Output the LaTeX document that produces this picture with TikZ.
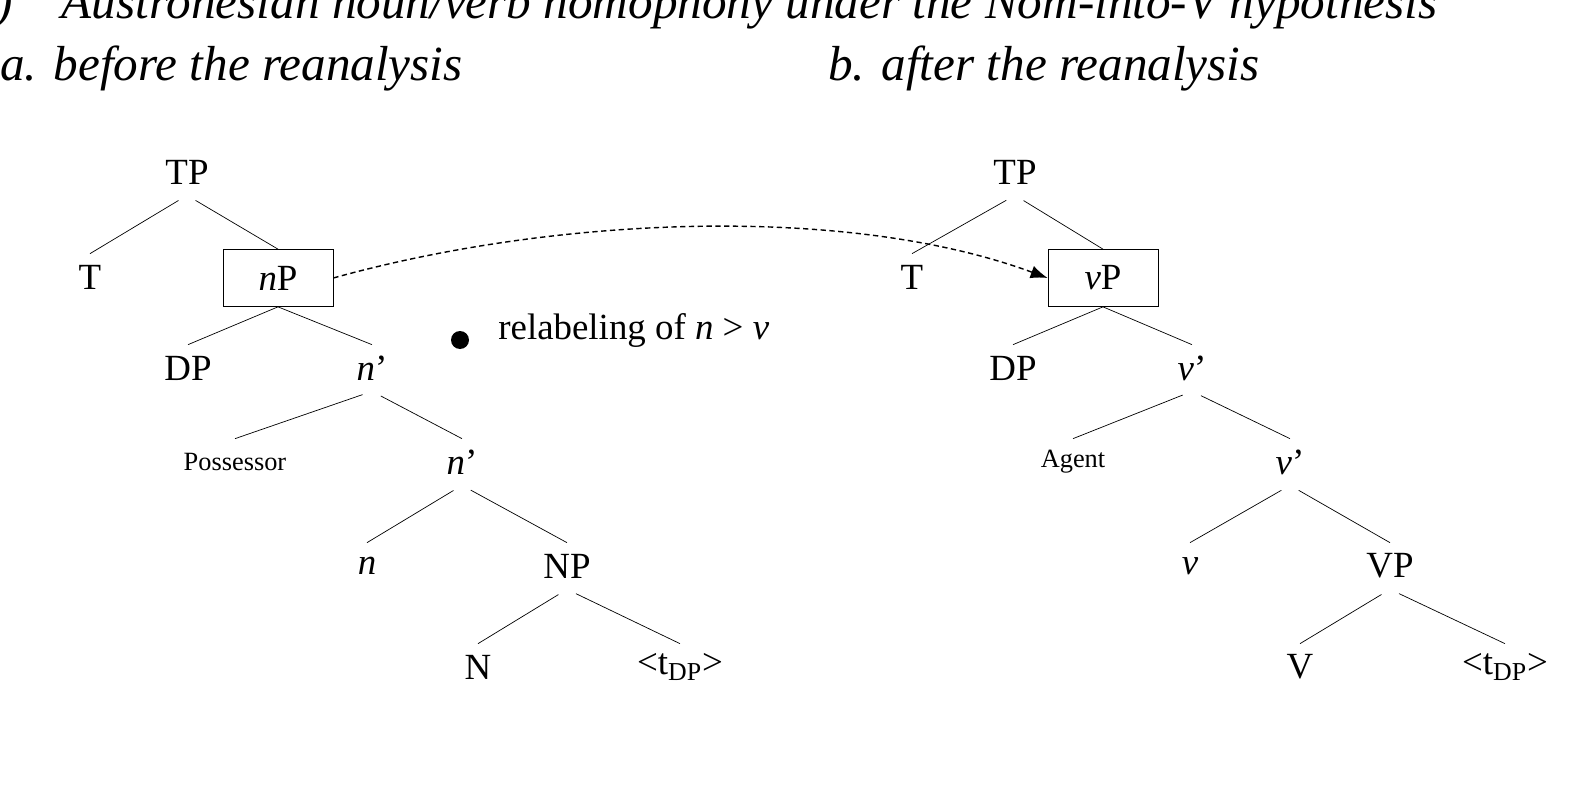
\documentclass[tikz,border=0pt]{standalone}
\usepackage{fontspec}
\setmainfont{Liberation Serif}
\usetikzlibrary{arrows.meta}
\tikzset{
    cat/.style={inner sep=0pt, minimum height=0.92cm, font=\fontsize{21}{25}\selectfont},
    small cat/.style={cat, font=\fontsize{15}{18}\selectfont},
    boxed/.style={draw, inner sep=0pt, minimum width=2.2cm, minimum height=1.14cm, font=\fontsize{21}{25}\selectfont},
    branch/.style={shorten <=0.2cm},
    heading/.style={anchor=base west, inner sep=0pt, font=\fontsize{28}{32}\selectfont\itshape},
}
\newcommand{\tDP}{<t\textsubscript{DP}>}
\begin{document}
\begin{tikzpicture}[x=0.02cm, y=-0.02cm]
    \useasboundingbox (0,0) rectangle (1590,801);
    % headings
    \node[heading] (title) at (-4,18) {)\quad Austronesian noun/verb homophony under the Nom-into-V hypothesis};
    \node[heading] (ha) at (0,80) {a. before the reanalysis};
    \node[heading] (hb) at (828,80) {b. after the reanalysis};
    % tree a
    \node[cat] (aTP) at (187,172) {TP};
    \node[cat] (aT) at (90,277) {T};
    \node[boxed] (anP) at (278,278) {\textit{n}P};
    \node[cat] (aDP) at (188,368) {DP};
    \node[cat] (an1) at (372,368) {\textit{n}'};
    \node[small cat] (aPoss) at (235,462) {Possessor};
    \node[cat] (an2) at (462,462) {\textit{n}'};
    \node[cat] (an) at (367,566) {\textit{n}};
    \node[cat] (aNP) at (567,566) {NP};
    \node[cat] (aN) at (478,667) {N};
    \node[cat] (at) at (680,667) {\tDP};
    \draw[branch] (aTP.south) -- (aT.north);
    \draw[branch] (aTP.south) -- (anP.north);
    \draw (anP.south) -- (aDP.north);
    \draw (anP.south) -- (an1.north);
    \draw[branch] (an1.south) -- (aPoss.north);
    \draw[branch] (an1.south) -- (an2.north);
    \draw[branch] (an2.south) -- (an.north);
    \draw[branch] (an2.south) -- (aNP.north);
    \draw[branch] (aNP.south) -- (aN.north);
    \draw[branch] (aNP.south) -- (at.north);
    % tree b
    \node[cat] (bTP) at (1015,172) {TP};
    \node[cat] (bT) at (912,277) {T};
    \node[boxed] (bvP) at (1103,278) {\textit{v}P};
    \node[cat] (bDP) at (1013,368) {DP};
    \node[cat] (bv1) at (1192,368) {\textit{v}'};
    \node[small cat] (bAgent) at (1073,462) {Agent};
    \node[cat] (bv2) at (1290,462) {\textit{v}'};
    \node[cat] (bv) at (1190,566) {\textit{v}};
    \node[cat] (bVP) at (1390,566) {VP};
    \node[cat] (bV) at (1300,667) {V};
    \node[cat] (bt) at (1505,667) {\tDP};
    \draw[branch] (bTP.south) -- (bT.north);
    \draw[branch] (bTP.south) -- (bvP.north);
    \draw (bvP.south) -- (bDP.north);
    \draw (bvP.south) -- (bv1.north);
    \draw[branch] (bv1.south) -- (bAgent.north);
    \draw[branch] (bv1.south) -- (bv2.north);
    \draw[branch] (bv2.south) -- (bv.north);
    \draw[branch] (bv2.south) -- (bVP.north);
    \draw[branch] (bVP.south) -- (bV.north);
    \draw[branch] (bVP.south) -- (bt.north);
    % relabeling
    \node[circle, fill, inner sep=0pt, minimum size=0.36cm] (dot) at (460,340) {};
    \node[cat, anchor=west] (note) at (498,330) {relabeling of \textit{n} > \textit{v}};
    \draw[densely dashed, thick, -{Latex[length=0.34cm,width=0.26cm]}]
        (anP.east) .. controls (560,215) and (850,205) .. (bvP.west);
\end{tikzpicture}
\end{document}
